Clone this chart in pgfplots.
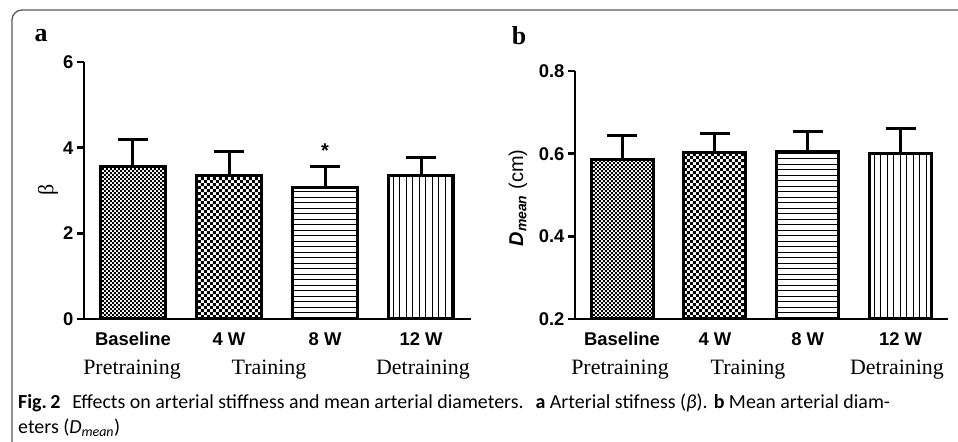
\documentclass[border=0pt]{standalone}
\usepackage{fontspec}
\setmainfont{Liberation Serif}
\setsansfont{Liberation Sans}
\newfontfamily\capfont{Carlito}
\usepackage{pgfplots}
\pgfplotsset{compat=1.18}
\usetikzlibrary{patterns}

\pgfdeclarepatternformonly{finechecker}{\pgfpointorigin}{\pgfqpoint{4.4bp}{4.4bp}}{\pgfqpoint{4.4bp}{4.4bp}}{%
  \pgfpathrectangle{\pgfpointorigin}{\pgfqpoint{2.2bp}{2.2bp}}%
  \pgfpathrectangle{\pgfqpoint{2.2bp}{2.2bp}}{\pgfqpoint{2.2bp}{2.2bp}}%
  \pgfusepath{fill}}
\pgfdeclarepatternformonly{bigchecker}{\pgfpointorigin}{\pgfqpoint{6.4bp}{6.4bp}}{\pgfqpoint{6.4bp}{6.4bp}}{%
  \pgfpathrectangle{\pgfpointorigin}{\pgfqpoint{3.2bp}{3.2bp}}%
  \pgfpathrectangle{\pgfqpoint{3.2bp}{3.2bp}}{\pgfqpoint{3.2bp}{3.2bp}}%
  \pgfusepath{fill}}
\pgfdeclarepatternformonly{hlinesp}{\pgfqpoint{-1bp}{-1bp}}{\pgfqpoint{1bp}{6.5bp}}{\pgfqpoint{1bp}{5.5bp}}{%
  \pgfsetlinewidth{1.2bp}%
  \pgfpathmoveto{\pgfqpoint{-1bp}{2.75bp}}\pgfpathlineto{\pgfqpoint{2bp}{2.75bp}}%
  \pgfusepath{stroke}}
\pgfdeclarepatternformonly{vlinesp}{\pgfqpoint{-1bp}{-1bp}}{\pgfqpoint{7.5bp}{1bp}}{\pgfqpoint{6.5bp}{1bp}}{%
  \pgfsetlinewidth{1.2bp}%
  \pgfpathmoveto{\pgfqpoint{3.25bp}{-1bp}}\pgfpathlineto{\pgfqpoint{3.25bp}{2bp}}%
  \pgfusepath{stroke}}

\pgfplotsset{
  barstyle/.style={ybar, bar shift=0pt, draw=black, line width=3bp, fill=white,
    error bars/y dir=plus, error bars/y explicit,
    error bars/error bar style={line width=3bp, black},
    error bars/error mark options={rotate=90, mark size=15bp, line width=3bp, black}},
  common/.style={
    scale only axis, clip=false,
    axis lines*=left,
    axis line style={line width=2.5bp},
    xtick={0,1,2,3},
    xticklabels={Baseline,4 W,8 W,12 W},
    x tick style={draw=none},
    y tick style={line width=2.5bp, black},
    tick align=outside,
    major tick length=7bp,
    /pgf/number format/assume math mode=true,
    ticklabel style={font=\fontsize{18.5}{20}\selectfont\sffamily\bfseries},
    xticklabel style={yshift=-3bp},
  }
}

\begin{document}
\begin{tikzpicture}
\useasboundingbox (0bp,0bp) rectangle (958bp,442bp);
\draw[black!65, line width=1.3bp] (12bp,-2bp) -- (12bp,422bp) arc[start angle=180,end angle=90,radius=10bp] -- (960bp,432bp);

% panel a
\begin{axis}[common, at={(84bp,123bp)}, anchor=south west, width=387bp, height=257bp,
  xmin=-0.51, xmax=3.52, ymin=0, ymax=6, ytick={0,2,4,6}]
\addplot[barstyle, bar width=65bp, pattern=finechecker] coordinates {(0,3.55) +- (0,0.63)};
\addplot[barstyle, bar width=65bp, pattern=bigchecker] coordinates {(1,3.34) +- (0,0.56)};
\addplot[barstyle, bar width=65bp, pattern=hlinesp] coordinates {(2,3.06) +- (0,0.51)};
\addplot[barstyle, bar width=65bp, pattern=vlinesp] coordinates {(3,3.34) +- (0,0.44)};
\node[font=\fontsize{20}{20}\selectfont\sffamily\bfseries] at (axis cs:2,3.92) {*};
\end{axis}

% panel b
\begin{axis}[common, at={(575bp,123bp)}, anchor=south west, width=373bp, height=248bp,
  xmin=-0.506, xmax=3.51, ymin=0.2, ymax=0.8, ytick={0.2,0.4,0.6,0.8},
  yticklabel style={/pgf/number format/fixed, /pgf/number format/precision=1, /pgf/number format/fixed zerofill}]
\addplot[barstyle, bar width=62bp, pattern=finechecker] coordinates {(0,0.587) +- (0,0.058)};
\addplot[barstyle, bar width=62bp, pattern=bigchecker] coordinates {(1,0.604) +- (0,0.046)};
\addplot[barstyle, bar width=62bp, pattern=hlinesp] coordinates {(2,0.605) +- (0,0.048)};
\addplot[barstyle, bar width=62bp, pattern=vlinesp] coordinates {(3,0.601) +- (0,0.061)};
\end{axis}

% panel letters
\node[font=\fontsize{26}{26}\selectfont\bfseries] at (41bp,406bp) {a};
\node[font=\fontsize{26}{26}\selectfont\bfseries] at (519bp,406bp) {b};

% y labels
\node[rotate=90, font=\fontsize{22}{22}\selectfont] at (48bp,252bp) {β};
\node[rotate=90, font=\fontsize{20}{20}\selectfont\sffamily] at (518bp,244bp)
  {\textbf{\textit{D}}\textsubscript{\textbf{\textit{mean}}} (cm)};

% serif group labels
\begin{scope}[every node/.style={font=\fontsize{22}{22}\selectfont, anchor=base}]
\node at (132bp,67bp) {Pretraining};
\node at (269bp,67bp) {Training};
\node at (423bp,67bp) {Detraining};
\node at (620bp,67bp) {Pretraining};
\node at (748bp,67bp) {Training};
\node at (897bp,67bp) {Detraining};
\end{scope}

% caption
\node[anchor=base west, inner sep=0, font=\capfont\fontsize{20}{22}\selectfont] at (18bp,34bp)
  {\textbf{Fig.\,2}\hspace{0.6em}Effects on arterial stiffness and mean arterial diameters.\hspace{0.6em}\textbf{a} Arterial stifness (\textit{β}). \textbf{b} Mean arterial diam-};
\node[anchor=base west, inner sep=0, font=\capfont\fontsize{20}{22}\selectfont] at (18bp,9bp)
  {eters (\textit{D}\textsubscript{\textit{mean}})};
\end{tikzpicture}
\end{document}
